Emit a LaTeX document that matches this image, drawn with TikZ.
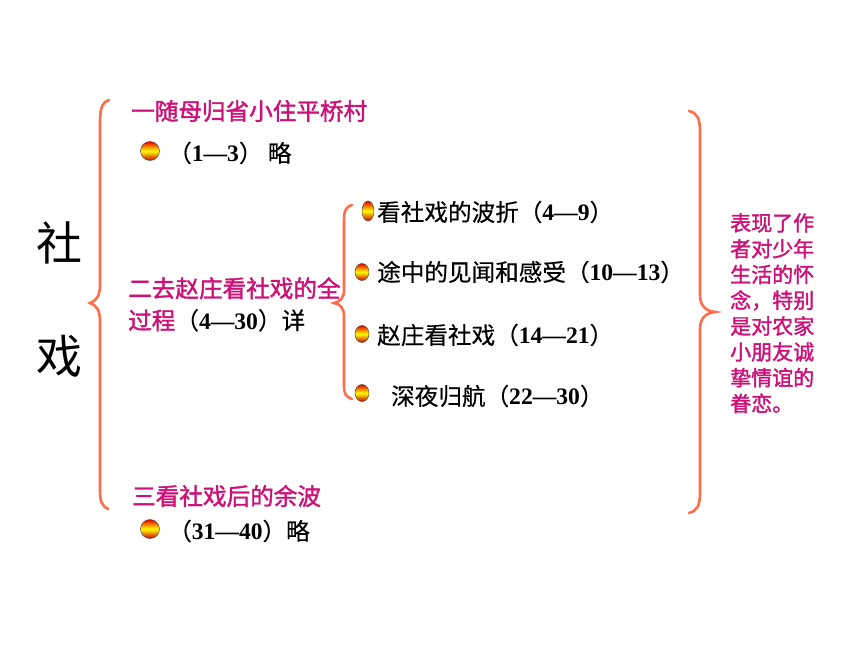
\documentclass[tikz,border=0pt]{standalone}
\usepackage{fontspec}
\newfontfamily\cjk[FakeBold=0.4]{Noto Sans CJK SC}
\newfontfamily\cjkplain{Noto Sans CJK SC}
\newfontfamily\cjkb[FakeBold=1.6]{Noto Sans CJK SC}
\newfontfamily\numf{Liberation Serif}
\newcommand{\nm}[1]{{\numf\bfseries #1}}
\definecolor{brc}{RGB}{255,110,75}
\definecolor{mag}{RGB}{204,17,119}
\tikzset{
  brace/.style={draw=brc, line width=2.6pt, line cap=round},
  head/.style={anchor=west, inner sep=0pt, text=mag, font=\cjkb\fontsize{23.6}{32}\selectfont},
  item/.style={anchor=west, inner sep=0pt, text=black, font=\cjk\fontsize{23.6}{32}\selectfont},
  side/.style={anchor=north west, inner sep=0pt, text=mag, align=left, font=\cjkb\fontsize{21}{25.8}\selectfont},
  big/.style={inner sep=0pt, font=\cjkplain\fontsize{46}{50}\selectfont},
}
\newcommand{\ball}[4]{%
  \shade[top color=red!90!black, bottom color=red!80!black, middle color=yellow, draw=black!70, line width=0.5pt]
    (#1,#2) ellipse [x radius=#3, y radius=#4];}
\begin{document}
\begin{tikzpicture}[x=1pt,y=-1pt]
\useasboundingbox (0,0) rectangle (860,645);
\fill[white] (0,0) rectangle (860,645);

% big title
\node[big] (t1) at (59,243) {社};
\node[big] (t2) at (59,356) {戏};

% left brace
\draw[brace] (109,100) .. controls (101,103) and (100,110) .. (100,125)
  -- (100,285) .. controls (100,296) and (96,301) .. (90,303)
  .. controls (96,305) and (100,310) .. (100,321)
  -- (100,490) .. controls (100,502) and (102,506) .. (108,509);

% section 1
\node[head] (h1) at (131,111) {一随母归省小住平桥村};
\ball{150}{151}{9.5}{9.5}
\node[item] (s1) at (168,153) {（\nm{1—3}） 略};

% section 2
\node[head,align=left,anchor=north west] (h2) at (128,277) {二去赵庄看社戏的全\\过程{\cjk\color{black}（\nm{4—30}）详}};

% inner brace
\draw[brace] (352,205) .. controls (345,207) and (344,212) .. (344,222)
  -- (344,290) .. controls (344,298) and (340,302) .. (334,303)
  .. controls (340,304) and (344,308) .. (344,316)
  -- (344,386) .. controls (344,394) and (346,397) .. (352,399);

\ball{368}{211}{6}{10}
\node[item] (i1) at (377,212) {看社戏的波折（\nm{4—9}）};
\ball{362}{272}{7}{8.5}
\node[item] (i2) at (377,272) {途中的见闻和感受（\nm{10—13}）};
\ball{362}{334}{7}{8.5}
\node[item] (i3) at (377,335) {赵庄看社戏（\nm{14—21}）};
\ball{362}{393}{7}{8.5}
\node[item] (i4) at (391,396) {深夜归航（\nm{22—30}）};

% right brace
\draw[brace] (689,111) .. controls (697,113) and (700,118) .. (700,132)
  -- (700,295) .. controls (700,306) and (706,311) .. (715,312)
  .. controls (706,313) and (700,318) .. (700,329)
  -- (700,492) .. controls (700,506) and (697,511) .. (689,513);

\node[side] (r) at (730,213) {表现了作\\者对少年\\生活的怀\\念，特别\\是对农家\\小朋友诚\\挚情谊的\\眷恋。};

% section 3
\node[head] (h3) at (132,496) {三看社戏后的余波};
\ball{150}{529}{9.5}{9.5}
\node[item] (s3) at (168,531) {（\nm{31—40}）略};
\end{tikzpicture}
\end{document}
